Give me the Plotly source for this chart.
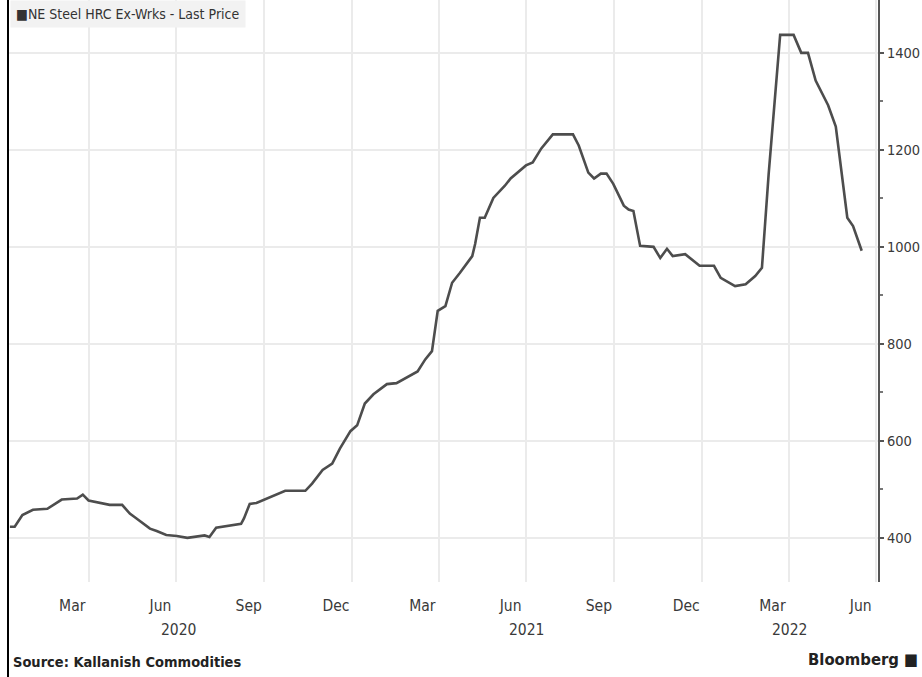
import plotly.graph_objects as go

# ---- data ----
dates = [
    "2020-01-10", "2020-01-15", "2020-01-23", "2020-02-03", "2020-02-18", "2020-03-04",
    "2020-03-20", "2020-03-26", "2020-04-01", "2020-04-10", "2020-04-23", "2020-05-06",
    "2020-05-14", "2020-05-21", "2020-06-04", "2020-06-11", "2020-06-21", "2020-07-02",
    "2020-07-13", "2020-07-31", "2020-08-05", "2020-08-12", "2020-08-29", "2020-09-07",
    "2020-09-10", "2020-09-16", "2020-09-23", "2020-10-04", "2020-10-14", "2020-10-23",
    "2020-11-13", "2020-11-20", "2020-12-01", "2020-12-11", "2020-12-19", "2020-12-30",
    "2021-01-06", "2021-01-14", "2021-01-23", "2021-02-06", "2021-02-16", "2021-02-27",
    "2021-03-10", "2021-03-18", "2021-03-25", "2021-03-31", "2021-04-08", "2021-04-15",
    "2021-04-23", "2021-05-06", "2021-05-09", "2021-05-14", "2021-05-19", "2021-05-28",
    "2021-06-09", "2021-06-15", "2021-07-01", "2021-07-08", "2021-07-17", "2021-07-29",
    "2021-08-19", "2021-08-25", "2021-09-04", "2021-09-10", "2021-09-17", "2021-09-23",
    "2021-09-30", "2021-10-11", "2021-10-16", "2021-10-21", "2021-10-28", "2021-11-11",
    "2021-11-18", "2021-11-25", "2021-12-01", "2021-12-14", "2021-12-19", "2021-12-29",
    "2022-01-13", "2022-01-20", "2022-02-04", "2022-02-15", "2022-02-25", "2022-03-04",
    "2022-03-11", "2022-03-17", "2022-03-23", "2022-04-06", "2022-04-14", "2022-04-21",
    "2022-04-29", "2022-05-12", "2022-05-20", "2022-06-01", "2022-06-07", "2022-06-16",
]
prices = [
    423, 423, 447, 458, 460, 479,
    481, 489, 477, 473, 468, 468,
    450, 440, 419, 414, 406, 404,
    400, 405, 402, 421, 427, 429,
    440, 470, 472, 481, 489, 497,
    497, 512, 540, 553, 584, 620,
    632, 677, 696, 717, 719, 731,
    743, 768, 785, 868, 878, 926,
    946, 981, 1006, 1060, 1060, 1101,
    1126, 1141, 1168, 1174, 1203, 1232,
    1232, 1209, 1153, 1141, 1151, 1151,
    1130, 1085, 1077, 1074, 1002, 1000,
    977, 996, 981, 985, 977, 961,
    961, 936, 919, 923, 940, 957,
    1150, 1300, 1437, 1437, 1400, 1400,
    1343, 1292, 1248, 1060, 1043, 992,
]
series_name = "NE Steel HRC Ex-Wrks - Last Price"

y_ticks = [400, 600, 800, 1000, 1200, 1400]
y_minor = [500, 700, 900, 1100, 1300]
grid_dates = ["2020-04-01", "2020-07-01", "2020-10-01", "2021-01-01", "2021-04-01",
              "2021-07-01", "2021-10-01", "2022-01-01", "2022-04-01", "2022-07-01"]
month_dates = ["2020-03-15", "2020-06-15", "2020-09-15", "2020-12-15", "2021-03-15",
               "2021-06-15", "2021-09-15", "2021-12-15", "2022-03-15", "2022-06-15"]
month_labels = ["Mar", "Jun", "Sep", "Dec", "Mar", "Jun", "Sep", "Dec", "Mar", "Jun"]
year_dates = ["2020-07-04", "2021-07-02", "2022-04-02"]
year_labels = ["2020", "2021", "2022"]

FONT = "DejaVu Sans Condensed, Liberation Sans Narrow, DejaVu Sans, sans-serif"
TXT = "#3a3a3a"

W, H = 922, 677
ML, MR, MT, MB = 8, 44, 0, 95
PW, PH = W - ML - MR, H - MT - MB


def px(xp):
    return (xp - ML) / PW


def py(yp):
    return (H - MB - yp) / PH


fig = go.Figure()
fig.add_trace(go.Scatter(x=dates, y=prices, mode="lines", name=series_name,
                         line=dict(color="#4d4d4d", width=2.6), showlegend=False))
fig.add_trace(go.Scatter(x=[dates[0]], y=[prices[0]], xaxis="x2", mode="markers",
                         marker=dict(opacity=0), showlegend=False, hoverinfo="skip"))

xr = ["2020-01-08", "2022-07-03"]
fig.update_layout(
    width=W, height=H,
    margin=dict(l=ML, r=MR, t=MT, b=MB, pad=0),
    paper_bgcolor="white", plot_bgcolor="white",
    font=dict(family=FONT, color=TXT, size=15),
    showlegend=False,
    xaxis=dict(range=xr, tickvals=grid_dates, showticklabels=False, ticks="",
               showgrid=True, gridcolor="#ebebeb", gridwidth=2, zeroline=False,
               showline=False, automargin=False),
    xaxis2=dict(range=xr, overlaying="x", side="bottom", tickvals=month_dates,
                ticktext=month_labels, showgrid=False, ticks="outside", ticklen=9,
                tickcolor="rgba(0,0,0,0)", showline=False,
                zeroline=False, automargin=False,
                tickfont=dict(size=15.5, color=TXT, family=FONT)),
    yaxis=dict(range=[309, 1509], side="right", tickvals=y_ticks, ticks="outside",
               ticklen=4, tickwidth=2, tickcolor="#555", showline=True,
               linecolor="#555", linewidth=2, showgrid=True, gridcolor="#ebebeb",
               gridwidth=2, zeroline=False, automargin=False,
               tickfont=dict(size=14.5, color=TXT, family=FONT),
               minor=dict(tickvals=y_minor, ticks="outside",
                          ticklen=3, tickwidth=1.5, tickcolor="#777")),
)

for d, t in zip(year_dates, year_labels):
    fig.add_annotation(x=d, y=py(630), xref="x", yref="paper", text=t, showarrow=False,
                       font=dict(size=15.5, color=TXT, family=FONT), yanchor="middle")

fig.add_annotation(x=px(10), y=py(0), xref="paper", yref="paper", xanchor="left",
                   yanchor="top", showarrow=False,
                   text="■NE Steel HRC Ex-Wrks - Last Price",
                   font=dict(size=14, color="#333", family=FONT),
                   bgcolor="#f2f2f2", borderpad=5)

fig.add_annotation(x=px(11), y=py(662), xref="paper", yref="paper",
                   xanchor="left", yanchor="middle", showarrow=False,
                   text="<b>Source: Kallanish Commodities</b>",
                   font=dict(size=14.5, color="#222", family=FONT))
fig.add_annotation(x=px(920), y=py(659), xref="paper", yref="paper",
                   xanchor="right", yanchor="middle", showarrow=False,
                   text="<b>Bloomberg</b> <b>■</b>",
                   font=dict(size=16.5, color="#222", family=FONT))

# frame line on the left edge of the picture
fig.add_shape(type="line", xref="paper", yref="paper", x0=0, x1=0, y0=py(H), y1=py(0),
              line=dict(color="black", width=2))

fig.write_html("out.html", config={"displayModeBar": False},
               post_script="document.body.style.margin='0';"
                           "document.body.style.overflow='hidden';")
